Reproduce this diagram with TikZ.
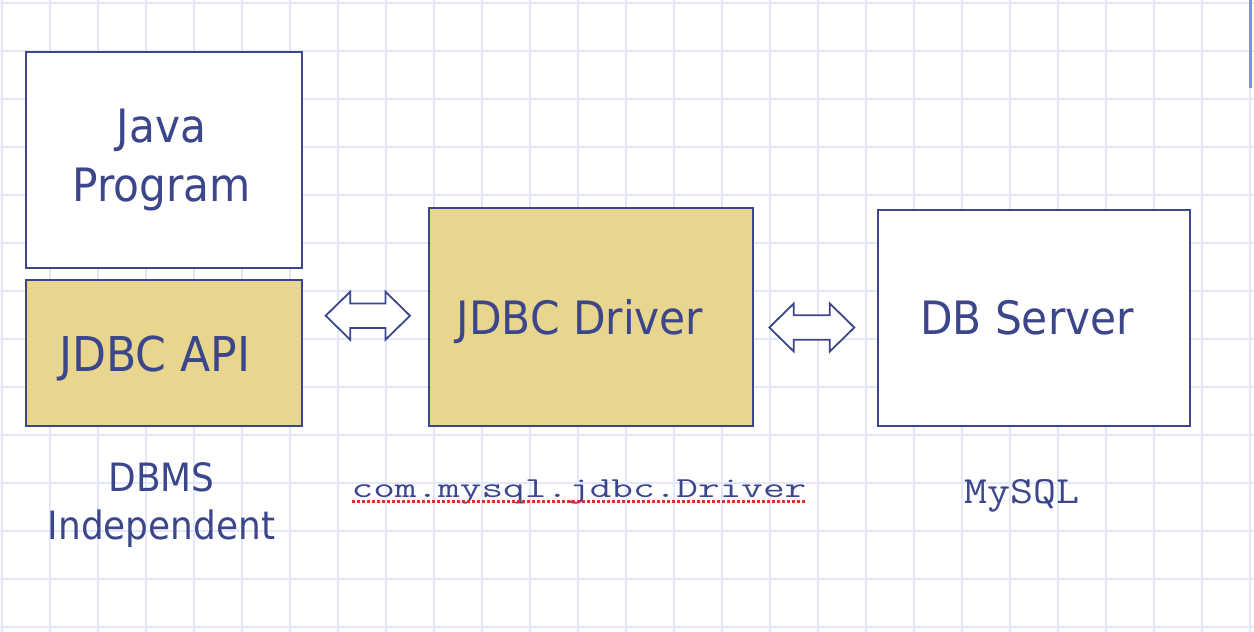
\documentclass[tikz,border=0pt]{standalone}
\usepackage{fontspec}
\setmainfont[FakeStretch=0.92]{DejaVu Sans}
\newfontfamily\monof{Latin Modern Mono}
\usetikzlibrary{calc}
\definecolor{ink}{RGB}{60,70,138}
\definecolor{gridc}{RGB}{226,232,250}
\definecolor{boxfill}{RGB}{233,214,142}
\definecolor{spellred}{RGB}{230,45,40}
\definecolor{barblue}{RGB}{123,143,240}
\tikzset{
  gridline/.style={draw=gridc, line width=2pt},
  plainbox/.style={draw=ink, line width=2pt, fill=white, rectangle, anchor=north west, inner sep=0pt, outer sep=0pt},
  yellowbox/.style={plainbox, fill=boxfill},
  bigtext/.style={text=ink, anchor=base, inner sep=0pt, font=\fontsize{46}{55}\selectfont},
  midtext/.style={text=ink, anchor=base, inner sep=0pt, font=\fontsize{39}{48}\selectfont},
  monotext/.style={text=ink, anchor=base, inner sep=0pt},
  dblarrow/.style={draw=ink, line width=1.8pt, fill=white, line join=miter},
  spell/.style={draw=spellred, line width=3pt, dash pattern=on 3pt off 2pt},
}
\newcommand\twoheadarrow[2]{%
  \draw[dblarrow] let \p1=(#1), \p2=(#2) in
    (\x1,\y1) -- (\x1+24.5pt,\y1+24pt) -- (\x1+24.5pt,\y1+12.3pt)
    -- (\x2-24.5pt,\y2+12.3pt) -- (\x2-24.5pt,\y2+24pt) -- (\x2,\y2)
    -- (\x2-24.5pt,\y2-24pt) -- (\x2-24.5pt,\y2-12.3pt)
    -- (\x1+24.5pt,\y1-12.3pt) -- (\x1+24.5pt,\y1-24pt) -- cycle;}
\begin{document}
\begin{tikzpicture}[x=1pt,y=-1pt]
\useasboundingbox (0,0) rectangle (1254,632);
\fill[white] (0,0) rectangle (1254,632);
% grid
\foreach \i in {0,...,26} \draw[gridline] (1.7+48*\i,0) -- (1.7+48*\i,632);
\foreach \j in {0,...,13} \draw[gridline] (0,3.3+48*\j) -- (1254,3.3+48*\j);
\fill[barblue] (1249,0) rectangle (1251.5,88);
% boxes
\node[plainbox, minimum width=276pt, minimum height=215.5pt] (java) at (26,52) {};
\node[yellowbox, minimum width=276pt, minimum height=145.5pt] (api) at (26,280) {};
\node[yellowbox, minimum width=324pt, minimum height=218pt] (driver) at (429,208) {};
\node[plainbox, minimum width=312pt, minimum height=216pt] (server) at (878,210) {};
% texts in boxes
\node[bigtext] (javaA) at (161.5,142.7) {Java};
\node[bigtext] (javaB) at (161.5,201) {Program};
\node[bigtext, font=\fontsize{48}{56}\selectfont] (apiT) at (155,371) {JDBC API};
\node[bigtext] (drvT) at (580,334.3) {JDBC Driver};
\node[bigtext] (srvT) at (1027,334.3) {DB Server};
% captions
\node[midtext] (capA) at (161.5,491) {DBMS};
\node[midtext] (capB) at (161.5,539) {Independent};
\node[monotext] (cls) at (579,497.7) {\scalebox{1.45}[1]{\monof\fontsize{29}{34}\selectfont com.mysql.jdbc.Driver}};
\node[monotext] (db) at (1021.5,503) {\scalebox{1.16}[1]{\monof\fontsize{38.5}{45}\selectfont MySQL}};
\coordinate (ulA) at (352,501);
\coordinate (ulB) at (805,501);
\draw[spell] (ulA) -- (ulB);
% double arrows
\coordinate (a1l) at (325.7,315.7);
\coordinate (a1r) at (410,315.7);
\coordinate (a2l) at (769.3,327.5);
\coordinate (a2r) at (854.3,327.5);
\twoheadarrow{a1l}{a1r}
\twoheadarrow{a2l}{a2r}
\end{tikzpicture}
\end{document}
